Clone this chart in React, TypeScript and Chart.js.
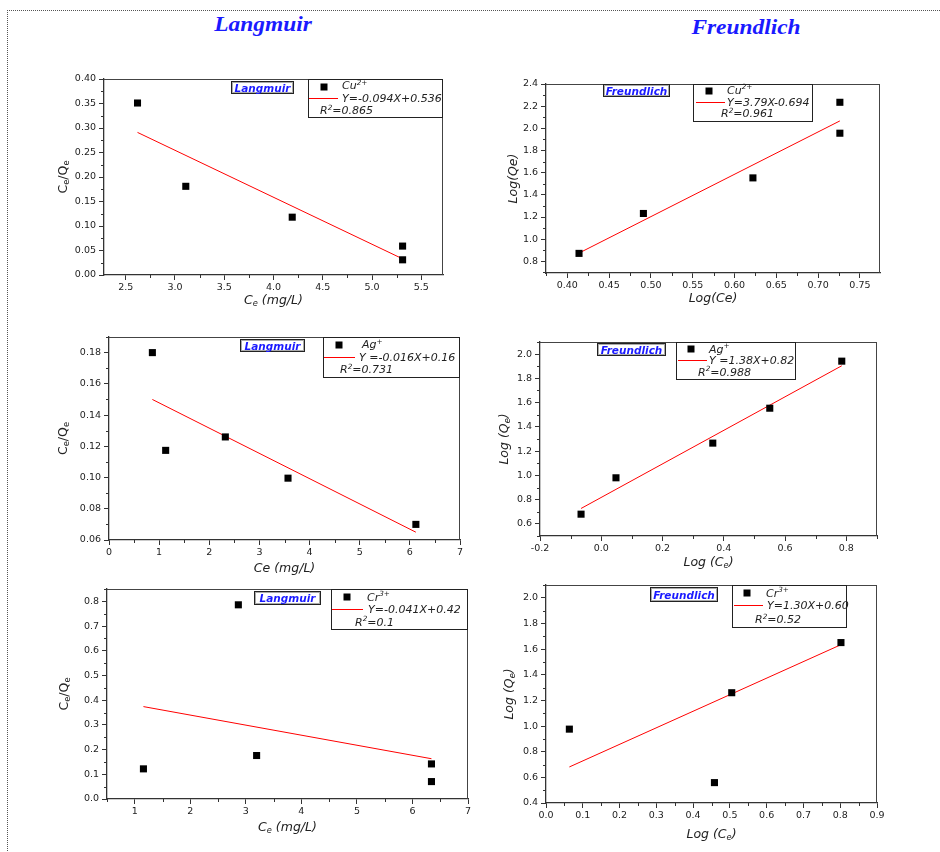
import React, { useEffect, useRef } from "react";
import { Chart, registerables } from "chart.js";
Chart.register(...registerables);

// ---------------- DATA ----------------
// Cu2+ Langmuir
const cuLangCe = [2.62, 3.11, 4.19, 5.31, 5.31];
const cuLangCeQe = [0.351, 0.181, 0.118, 0.059, 0.031];
const cuLangFitCe = [2.62, 5.31];
const cuLangFitCeQe = [0.291, 0.033];
const p1XTicks = ["2.5", "3.0", "3.5", "4.0", "4.5", "5.0", "5.5"];
const p1YTicks = ["0.00", "0.05", "0.10", "0.15", "0.20", "0.25", "0.30", "0.35", "0.40"];

// Cu2+ Freundlich
const cuFreLogCe = [0.414, 0.491, 0.622, 0.726, 0.726];
const cuFreLogQe = [0.872, 1.232, 1.553, 1.956, 2.235];
const cuFreFitLogCe = [0.414, 0.726];
const cuFreFitLogQe = [0.875, 2.067];
const p2XTicks = ["0.40", "0.45", "0.50", "0.55", "0.60", "0.65", "0.70", "0.75"];
const p2YTicks = ["0.8", "1.0", "1.2", "1.4", "1.6", "1.8", "2.0", "2.2", "2.4"];

// Ag+ Langmuir
const agLangCe = [0.865, 1.13, 2.32, 3.57, 6.12];
const agLangCeQe = [0.18, 0.1174, 0.126, 0.0996, 0.07];
const agLangFitCe = [0.865, 6.12];
const agLangFitCeQe = [0.15, 0.065];
const p3XTicks = ["0", "1", "2", "3", "4", "5", "6", "7"];
const p3YTicks = ["0.06", "0.08", "0.10", "0.12", "0.14", "0.16", "0.18"];

// Ag+ Freundlich
const agFreLogCe = [-0.066, 0.048, 0.364, 0.55, 0.785];
const agFreLogQe = [0.68, 0.98, 1.266, 1.554, 1.942];
const agFreFitLogCe = [-0.066, 0.785];
const agFreFitLogQe = [0.727, 1.904];
const p4XTicks = ["-0.2", "0.0", "0.2", "0.4", "0.6", "0.8"];
const p4YTicks = ["0.6", "0.8", "1.0", "1.2", "1.4", "1.6", "1.8", "2.0"];

// Cr3+ Langmuir
const crLangCe = [1.156, 2.865, 3.194, 6.342, 6.342];
const crLangCeQe = [0.122, 0.786, 0.176, 0.142, 0.0705];
const crLangFitCe = [1.156, 6.342];
const crLangFitCeQe = [0.374, 0.163];
const p5XTicks = ["1", "2", "3", "4", "5", "6", "7"];
const p5YTicks = ["0.0", "0.1", "0.2", "0.3", "0.4", "0.5", "0.6", "0.7", "0.8"];

// Cr3+ Freundlich
const crFreLogCe = [0.0635, 0.458, 0.505, 0.802];
const crFreLogQe = [0.976, 0.559, 1.26, 1.651];
const crFreFitLogCe = [0.0635, 0.7985];
const crFreFitLogQe = [0.681, 1.63];
const p6XTicks = ["0.0", "0.1", "0.2", "0.3", "0.4", "0.5", "0.6", "0.7", "0.8", "0.9"];
const p6YTicks = ["0.4", "0.6", "0.8", "1.0", "1.2", "1.4", "1.6", "1.8", "2.0"];

// ---------------- DRAWING HELPERS ----------------
const FAM = '"DejaVu Sans", Verdana, sans-serif';
type Seg = { t: string; sub?: boolean; sup?: boolean };

function fontStr(size: number, italic: boolean, bold = false) {
  return `${italic ? "italic " : ""}${bold ? "bold " : ""}${size}px ${FAM}`;
}

// y = baseline
function drawRich(
  ctx: CanvasRenderingContext2D,
  segs: Seg[],
  x: number,
  y: number,
  size: number,
  italic: boolean,
  align: "left" | "center",
  color = "#000"
) {
  const small = size * 0.66;
  const widths = segs.map((s) => {
    ctx.font = fontStr(s.sub || s.sup ? small : size, italic);
    return ctx.measureText(s.t).width;
  });
  const total = widths.reduce((a, b) => a + b, 0);
  let cx = align === "center" ? x - total / 2 : x;
  ctx.textAlign = "left";
  ctx.textBaseline = "alphabetic";
  ctx.fillStyle = color;
  segs.forEach((s, i) => {
    ctx.font = fontStr(s.sub || s.sup ? small : size, italic);
    const dy = s.sub ? size * 0.2 : s.sup ? -size * 0.42 : 0;
    ctx.fillText(s.t, cx, y + dy);
    cx += widths[i];
  });
}

interface PanelCfg {
  area: [number, number, number, number];
  xr: [number, number];
  yr: [number, number];
  xTicks: string[];
  yTicks: string[];
  px: number[];
  py: number[];
  fx: number[];
  fy: number[];
  xTitle: Seg[];
  xTitleItalic: boolean;
  xTitleY: number;
  yTitle: Seg[];
  yTitleItalic: boolean;
  yTitleX: number;
  tag: string;
  tagBox: [number, number, number, number];
  legBox: [number, number, number, number];
  mark: [number, number];
  line: [number, number, number];
  t1: [number, number];
  t2: [number, number];
  t3: [number, number];
  series: Seg[];
  eq: string;
  r2: string;
}

const CeSeg: Seg[] = [{ t: "C" }, { t: "e", sub: true }];
const CeQe: Seg[] = [{ t: "C" }, { t: "e", sub: true }, { t: "/Q" }, { t: "e", sub: true }];

const panels: PanelCfg[] = [
  {
    area: [104, 79, 443, 275], xr: [2.28, 5.72], yr: [0, 0.4],
    xTicks: p1XTicks, yTicks: p1YTicks,
    px: cuLangCe, py: cuLangCeQe, fx: cuLangFitCe, fy: cuLangFitCeQe,
    xTitle: [...CeSeg, { t: " (mg/L)" }], xTitleItalic: true, xTitleY: 299,
    yTitle: CeQe, yTitleItalic: false, yTitleX: 62,
    tag: "Langmuir", tagBox: [231, 81, 62, 12],
    legBox: [308, 79, 135, 38], mark: [16, 8], line: [1, 30, 19], t1: [34, 10.3], t2: [34, 22.7], t3: [12, 35.3],
    series: [{ t: "Cu" }, { t: "2+", sup: true }], eq: "Y=-0.094X+0.536", r2: "=0.865",
  },
  {
    area: [546, 84, 880, 273], xr: [0.3745, 0.774], yr: [0.695, 2.4],
    xTicks: p2XTicks, yTicks: p2YTicks,
    px: cuFreLogCe, py: cuFreLogQe, fx: cuFreFitLogCe, fy: cuFreFitLogQe,
    xTitle: [{ t: "Log(Ce)" }], xTitleItalic: true, xTitleY: 297,
    yTitle: [{ t: "Log(Qe)" }], yTitleItalic: true, yTitleX: 512,
    tag: "Freundlich", tagBox: [603, 84, 66, 12],
    legBox: [693, 84, 120, 37], mark: [16, 7], line: [3, 32, 18], t1: [34, 10], t2: [34, 21.7], t3: [28, 33.3],
    series: [{ t: "Cu" }, { t: "2+", sup: true }], eq: "Y=3.79X-0.694", r2: "=0.961",
  },
  {
    area: [109, 337, 460, 540], xr: [0, 7], yr: [0.06, 0.19],
    xTicks: p3XTicks, yTicks: p3YTicks,
    px: agLangCe, py: agLangCeQe, fx: agLangFitCe, fy: agLangFitCeQe,
    xTitle: [{ t: "Ce (mg/L)" }], xTitleItalic: true, xTitleY: 567,
    yTitle: CeQe, yTitleItalic: false, yTitleX: 62,
    tag: "Langmuir", tagBox: [240, 339, 64, 12],
    legBox: [323, 337, 137, 40], mark: [16, 8], line: [1, 32, 20], t1: [39, 11.3], t2: [36, 23.7], t3: [17, 36.3],
    series: [{ t: "Ag" }, { t: "+", sup: true }], eq: "Y =-0.016X+0.16", r2: "=0.731",
  },
  {
    area: [540, 342, 877, 536], xr: [-0.2, 0.9], yr: [0.5, 2.1],
    xTicks: p4XTicks, yTicks: p4YTicks,
    px: agFreLogCe, py: agFreLogQe, fx: agFreFitLogCe, fy: agFreFitLogQe,
    xTitle: [{ t: "Log (" }, ...CeSeg, { t: ")" }], xTitleItalic: true, xTitleY: 561,
    yTitle: [{ t: "Log (Q" }, { t: "e", sub: true }, { t: ")" }], yTitleItalic: true, yTitleX: 503,
    tag: "Freundlich", tagBox: [597, 343, 68, 12],
    legBox: [676, 342, 120, 37], mark: [15, 7], line: [2, 31, 18], t1: [33, 10.7], t2: [33, 22], t3: [22, 33.7],
    series: [{ t: "Ag" }, { t: "+", sup: true }], eq: "Y =1.38X+0.82", r2: "=0.988",
  },
  {
    area: [107, 589, 468, 799], xr: [0.5, 7], yr: [0, 0.85],
    xTicks: p5XTicks, yTicks: p5YTicks,
    px: crLangCe, py: crLangCeQe, fx: crLangFitCe, fy: crLangFitCeQe,
    xTitle: [...CeSeg, { t: " (mg/L)" }], xTitleItalic: true, xTitleY: 826,
    yTitle: CeQe, yTitleItalic: false, yTitleX: 63,
    tag: "Langmuir", tagBox: [254, 591, 66, 13],
    legBox: [331, 589, 137, 40], mark: [16, 8], line: [1, 32, 20], t1: [36, 11.7], t2: [37, 24.3], t3: [24, 36.7],
    series: [{ t: "Cr" }, { t: "3+", sup: true }], eq: "Y=-0.041X+0.42", r2: "=0.1",
  },
  {
    area: [546, 585, 877, 803], xr: [0, 0.9], yr: [0.4, 2.1],
    xTicks: p6XTicks, yTicks: p6YTicks,
    px: crFreLogCe, py: crFreLogQe, fx: crFreFitLogCe, fy: crFreFitLogQe,
    xTitle: [{ t: "Log (" }, ...CeSeg, { t: ")" }], xTitleItalic: true, xTitleY: 833,
    yTitle: [{ t: "Log (Q" }, { t: "e", sub: true }, { t: ")" }], yTitleItalic: true, yTitleX: 508,
    tag: "Freundlich", tagBox: [650, 587, 67, 14],
    legBox: [732, 585, 115, 42], mark: [15, 8], line: [2, 31, 20], t1: [34, 11.7], t2: [35, 24], t3: [23, 38.3],
    series: [{ t: "Cr" }, { t: "3+", sup: true }], eq: "Y=1.30X+0.60", r2: "=0.52",
  },
];

function minorValues(ticks: number[], min: number, max: number) {
  const st = ticks[1] - ticks[0];
  const out: number[] = [];
  for (let v = ticks[0] - st / 2; v <= max + 1e-9; v += st) {
    if (v >= min - 1e-9) out.push(v);
  }
  return out;
}

function decorPlugin(cfg: PanelCfg) {
  return {
    id: "decor",
    afterDraw(chart: any) {
      const ctx: CanvasRenderingContext2D = chart.ctx;
      const xs = chart.scales.x;
      const ys = chart.scales.y;
      const { left, top, right, bottom } = chart.chartArea;
      ctx.save();
      // frame top/right
      ctx.strokeStyle = "#444";
      ctx.lineWidth = 1;
      ctx.beginPath();
      ctx.moveTo(left, Math.round(top) + 0.5);
      ctx.lineTo(right, Math.round(top) + 0.5);
      ctx.moveTo(Math.round(right) - 0.5, top);
      ctx.lineTo(Math.round(right) - 0.5, bottom);
      ctx.stroke();
      // minor ticks
      ctx.strokeStyle = "#333";
      ctx.beginPath();
      const xt = cfg.xTicks.map(parseFloat);
      const yt = cfg.yTicks.map(parseFloat);
      minorValues(xt, cfg.xr[0], cfg.xr[1]).forEach((v) => {
        const p = Math.round(xs.getPixelForValue(v)) + 0.5;
        ctx.moveTo(p, bottom);
        ctx.lineTo(p, bottom + 3);
      });
      minorValues(yt, cfg.yr[0], cfg.yr[1]).forEach((v) => {
        const p = Math.round(ys.getPixelForValue(v)) + 0.5;
        ctx.moveTo(left, p);
        ctx.lineTo(left - 3, p);
      });
      ctx.stroke();

      // axis titles (given centre)
      const ts = 12.5;
      drawRich(ctx, cfg.xTitle, (left + right) / 2, cfg.xTitleY + ts * 0.36, ts, cfg.xTitleItalic, "center", "#222");
      ctx.save();
      ctx.translate(cfg.yTitleX, (top + bottom) / 2);
      ctx.rotate(-Math.PI / 2);
      drawRich(ctx, cfg.yTitle, 0, ts * 0.36, ts, cfg.yTitleItalic, "center", "#222");
      ctx.restore();

      // tag box
      const [tx, ty, tw, th] = cfg.tagBox;
      ctx.fillStyle = "#fff";
      ctx.fillRect(tx, ty, tw, th);
      ctx.strokeStyle = "#aaa";
      ctx.strokeRect(tx + 1.5, ty + 1.5, tw - 2, th - 2);
      ctx.strokeStyle = "#222";
      ctx.strokeRect(tx + 0.5, ty + 0.5, tw, th);
      ctx.font = fontStr(10.5, true, true);
      ctx.fillStyle = "#1a1aff";
      ctx.textAlign = "center";
      ctx.textBaseline = "alphabetic";
      ctx.fillText(cfg.tag, tx + tw / 2 + 0.5, ty + th / 2 + 4.5);

      // legend box
      const [lx, ly, lw, lh] = cfg.legBox;
      ctx.fillStyle = "#fff";
      ctx.fillRect(lx, ly, lw, lh);
      ctx.strokeStyle = "#222";
      ctx.lineWidth = 1;
      ctx.strokeRect(lx + 0.5, ly + 0.5, lw - 1, lh);
      ctx.fillStyle = "#000";
      ctx.fillRect(lx + cfg.mark[0] - 3.5, ly + cfg.mark[1] - 3.5, 7, 7);
      ctx.strokeStyle = "#ff0000";
      ctx.beginPath();
      ctx.moveTo(lx + cfg.line[0], ly + cfg.line[2] + 0.5);
      ctx.lineTo(lx + cfg.line[1], ly + cfg.line[2] + 0.5);
      ctx.stroke();
      const ls = 11;
      drawRich(ctx, cfg.series, lx + cfg.t1[0], ly + cfg.t1[1], ls, true, "left", "#222");
      drawRich(ctx, [{ t: cfg.eq }], lx + cfg.t2[0], ly + cfg.t2[1], ls, true, "left", "#222");
      drawRich(ctx, [{ t: "R" }, { t: "2", sup: true }, { t: cfg.r2 }], lx + cfg.t3[0], ly + cfg.t3[1], ls, true, "left", "#222");
      ctx.restore();
    },
  };
}

const W = 940;
const H = 852;

function Panel({ cfg }: { cfg: PanelCfg }) {
  const ref = useRef<HTMLCanvasElement>(null);
  useEffect(() => {
    const c = ref.current;
    if (!c) return;
    const [l, t, r, b] = cfg.area;
    const YW = 60;
    const XH = 30;
    const tickFont = { family: FAM, size: 9.5 };
    const chart = new Chart(c, {
      type: "scatter",
      data: {
        datasets: [
          {
            type: "line",
            data: cfg.fx.map((x, i) => ({ x, y: cfg.fy[i] })),
            borderColor: "#ff0000",
            borderWidth: 1,
            pointRadius: 0,
            fill: false,
            order: 2,
          } as any,
          {
            type: "scatter",
            data: cfg.px.map((x, i) => ({ x, y: cfg.py[i] })),
            pointStyle: "rect",
            pointRadius: 5,
            backgroundColor: "#000",
            borderColor: "#000",
            borderWidth: 0,
            order: 1,
          } as any,
        ],
      },
      options: {
        responsive: false,
        animation: false,
        events: [],
        layout: { padding: { left: l - YW, top: t, right: W - r, bottom: H - b - XH } },
        plugins: { legend: { display: false }, tooltip: { enabled: false } },
        scales: {
          x: {
            type: "linear",
            position: "bottom",
            min: cfg.xr[0],
            max: cfg.xr[1],
            bounds: "data",
            afterFit: (s: any) => { s.height = XH; },
            afterBuildTicks: (s: any) => { s.ticks = cfg.xTicks.map((v) => ({ value: parseFloat(v) })); },
            ticks: {
              autoSkip: false,
              maxRotation: 0,
              padding: 2,
              color: "#222",
              font: tickFont,
              callback: (_v: any, i: number) => cfg.xTicks[i],
            },
            grid: { display: true, drawOnChartArea: false, drawTicks: true, tickLength: 5, color: "#333", lineWidth: 1 },
            border: { display: true, color: "#333", width: 1.3 },
          },
          y: {
            type: "linear",
            position: "left",
            min: cfg.yr[0],
            max: cfg.yr[1],
            bounds: "data",
            afterFit: (s: any) => { s.width = YW; },
            afterBuildTicks: (s: any) => { s.ticks = cfg.yTicks.map((v) => ({ value: parseFloat(v) })); },
            ticks: {
              autoSkip: false,
              padding: 3,
              color: "#222",
              font: tickFont,
              callback: (_v: any, i: number) => cfg.yTicks[i],
            },
            grid: { display: true, drawOnChartArea: false, drawTicks: true, tickLength: 5, color: "#333", lineWidth: 1 },
            border: { display: true, color: "#333", width: 1.3 },
          },
        },
      } as any,
      plugins: [decorPlugin(cfg)],
    });
    return () => chart.destroy();
  }, [cfg]);
  return <canvas ref={ref} width={W} height={H} style={{ position: "absolute", left: 0, top: 0 }} />;
}

export default function App() {
  const titleStyle: React.CSSProperties = {
    position: "absolute",
    width: 240,
    textAlign: "center",
    font: 'bold italic 20px "Liberation Serif", "Times New Roman", serif',
    color: "#1a1aff",
    lineHeight: "24px",
    whiteSpace: "nowrap",
    transform: "scaleX(1.17)",
  };
  return (
    <div style={{ position: "absolute", left: 0, top: 0, width: W, height: H, background: "#fff", overflow: "hidden" }}>
      <div
        style={{
          position: "absolute",
          left: 7,
          top: 10,
          width: W,
          height: H,
          borderTop: "1px dotted #555",
          borderLeft: "1px dotted #555",
        }}
      />
      <div style={{ ...titleStyle, left: 263 - 120, top: 12 }}>Langmuir</div>
      <div style={{ ...titleStyle, left: 746 - 120, top: 15 }}>Freundlich</div>
      {panels.map((p, i) => (
        <Panel key={i} cfg={p} />
      ))}
    </div>
  );
}
